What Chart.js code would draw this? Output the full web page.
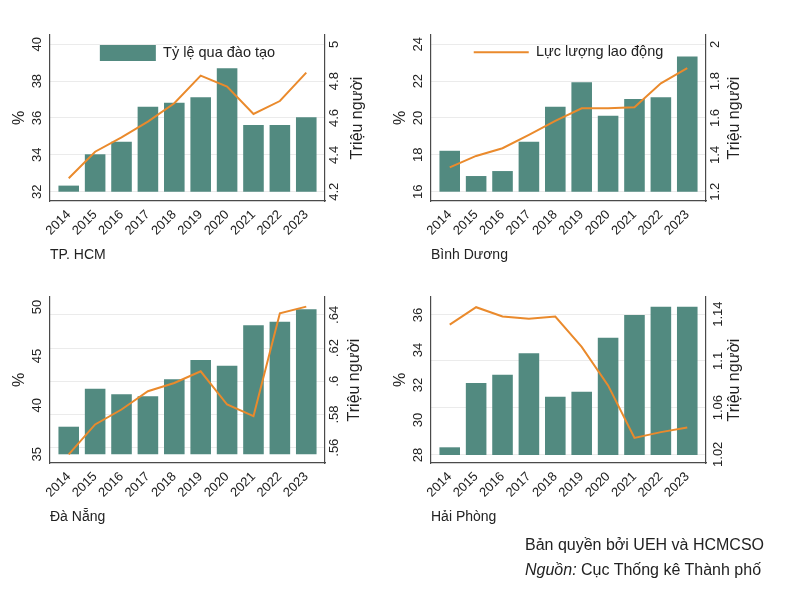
<!DOCTYPE html>
<html lang="vi">
<head>
<meta charset="utf-8">
<title>Tỷ lệ qua đào tạo và lực lượng lao động</title>
<script src="https://cdn.jsdelivr.net/npm/chart.js@4.4.1/dist/chart.umd.min.js"></script>
<style>
  html, body { margin:0; padding:0; background:#fff; }
  body { width:800px; height:599px; position:relative; overflow:hidden; font-family:"Liberation Sans", Arial, sans-serif; }
  canvas { position:absolute; }
  #p1 { left:0; top:0; }
  #p2 { left:381px; top:0; }
  #p3 { left:0; top:262px; }
  #p4 { left:381px; top:262px; }
  .note { position:absolute; left:525px; font-size:16px; line-height:18px; color:#222; white-space:nowrap; }
</style>
</head>
<body>
<canvas id="p1" width="385" height="271"></canvas>
<canvas id="p2" width="385" height="271"></canvas>
<canvas id="p3" width="385" height="271"></canvas>
<canvas id="p4" width="385" height="271"></canvas>
<div class="note" style="top:536px">Bản quyền bởi UEH và HCMCSO</div>
<div class="note" style="top:561px"><i>Nguồn:</i> Cục Thống kê Thành phố</div>
<script>
// ─── data ───────────────────────────────────────────────────────────────────
const years = [2014, 2015, 2016, 2017, 2018, 2019, 2020, 2021, 2022, 2023];

const hcmTrained = [32.33, 34.03, 34.71, 36.61, 36.83, 37.12, 38.70, 35.62, 35.62, 36.04];
const hcmLabour  = [4.273, 4.417, 4.495, 4.580, 4.680, 4.830, 4.770, 4.622, 4.692, 4.846];
const bdTrained  = [18.22, 16.85, 17.12, 18.71, 20.61, 21.94, 20.12, 21.03, 21.12, 23.33];
const bdLabour   = [1.332, 1.394, 1.436, 1.508, 1.584, 1.653, 1.653, 1.658, 1.788, 1.870];
const dnTrained  = [37.81, 41.68, 41.11, 40.91, 42.64, 44.60, 44.02, 48.14, 48.50, 49.77];
const dnLabour   = [0.556, 0.574, 0.583, 0.594, 0.599, 0.606, 0.586, 0.579, 0.641, 0.645];
const hpTrained  = [28.44, 32.11, 32.59, 33.81, 31.33, 31.62, 34.70, 36.00, 36.47, 36.47];
const hpLabour   = [1.131, 1.146, 1.138, 1.136, 1.138, 1.112, 1.079, 1.034, 1.039, 1.043];

const hcmLeftTicks  = [32, 34, 36, 38, 40];
const hcmRightTicks = [4.2, 4.4, 4.6, 4.8, 5];
const bdLeftTicks   = [16, 18, 20, 22, 24];
const bdRightTicks  = [1.2, 1.4, 1.6, 1.8, 2];
const dnLeftTicks   = [35, 40, 45, 50];
const dnRightTicks  = [0.56, 0.58, 0.6, 0.62, 0.64];
const hpLeftTicks   = [28, 30, 32, 34, 36];
const hpRightTicks  = [1.02, 1.06, 1.1, 1.14];

// ─── style ──────────────────────────────────────────────────────────────────
const FONT = '"Liberation Sans", Arial, sans-serif';
const BAR_COLOR  = '#528a80';
const LINE_COLOR = '#ea8a2c';
const AXIS_COLOR = '#4a4a4a';
const GRID_COLOR = '#ebebeb';
const TEXT_COLOR = '#222';

function fixTicks(values) { return scale => { scale.ticks = values.map(v => ({ value: v })); }; }
function fixWidth(w) { return scale => { scale.width = w; }; }
function stataNum(v) { return String(+v.toFixed(2)).replace(/^0\./, '.'); }

// right-hand axis title reads bottom to top, like the left one
const rightTitle = {
  id: 'rightTitle',
  afterDraw(chart, args, opts) {
    const { ctx, chartArea } = chart;
    ctx.save();
    ctx.translate(chartArea.right + opts.offset, (chartArea.top + chartArea.bottom) / 2);
    ctx.rotate(-Math.PI / 2);
    ctx.font = '16px ' + FONT;
    ctx.fillStyle = TEXT_COLOR;
    ctx.textAlign = 'center';
    ctx.textBaseline = 'middle';
    ctx.fillText(opts.text, 0, 0);
    ctx.restore();
  }
};

// the chartArea legend is laid out as a column; pin it to the top of the plot, centred
const centreLegend = {
  id: 'centreLegend',
  beforeDraw(chart) {
    const lg = chart.legend;
    if (!lg || !lg.options.display || !lg.columnSizes || !lg.columnSizes.length) return;
    const pad = lg.options.labels.padding;
    const { chartArea } = chart;
    lg.left = chartArea.left + (chartArea.width - lg.columnSizes[0].width) / 2 - pad;
    lg.top = chartArea.top;
    lg.bottom = chartArea.bottom;
  }
};

function legendFor(kind) {
  if (kind === 'bar') return {
    display: true, position: 'chartArea', align: 'start',
    labels: { filter: it => it.datasetIndex === 0, boxWidth: 56, boxHeight: 16, padding: 10,
              color: TEXT_COLOR, font: { size: 14.5, family: FONT } }
  };
  if (kind === 'line') return {
    display: true, position: 'chartArea', align: 'start',
    labels: { filter: it => it.datasetIndex === 1, usePointStyle: true, pointStyle: 'line',
              pointStyleWidth: 55, padding: 10, color: TEXT_COLOR, font: { size: 14.5, family: FONT } }
  };
  return { display: false };
}

function makePanel(id, p) {
  const tickFont = { size: 13, family: FONT };
  return new Chart(document.getElementById(id), {
    type: 'bar',
    data: {
      datasets: [
        { type: 'bar', label: 'Tỷ lệ qua đào tạo', data: years.map((y, i) => ({ x: y, y: p.trained[i] })),
          backgroundColor: BAR_COLOR, borderWidth: 0, base: p.base, yAxisID: 'yL', order: 1,
          barPercentage: 0.78, categoryPercentage: 1 },
        { type: 'line', label: 'Lực lượng lao động', data: years.map((y, i) => ({ x: y, y: p.labour[i] })),
          borderColor: LINE_COLOR, backgroundColor: LINE_COLOR, borderWidth: 2, pointRadius: 0,
          tension: 0, yAxisID: 'yR', order: 0 }
      ]
    },
    options: {
      responsive: false, animation: false,
      layout: { padding: { left: 0, right: 0, top: 35, bottom: 7 } },
      plugins: {
        tooltip: { enabled: false },
        legend: legendFor(p.legend),
        rightTitle: { text: 'Triệu người', offset: p.titleOffset }
      },
      scales: {
        x: {
          type: 'linear', position: 'bottom', min: 2013.29, max: 2023.71, offset: false,
          grid: { display: false, drawTicks: false }, border: { display: true, color: AXIS_COLOR, width: 1.2 },
          afterBuildTicks: fixTicks(years), afterFit: s => { s.height = 63; },
          ticks: { autoSkip: false, minRotation: 45, maxRotation: 45, padding: 6, color: TEXT_COLOR,
                   font: tickFont, callback: v => String(v) },
          title: { display: true, text: p.place, align: 'start', color: TEXT_COLOR, padding: 0,
                   font: { size: 14, family: FONT } }
        },
        yL: {
          type: 'linear', position: 'left', min: p.left[0], max: p.left[1],
          grid: { display: false, drawTicks: false }, border: { display: true, color: AXIS_COLOR, width: 1.2 },
          afterBuildTicks: fixTicks(p.leftTicks), afterFit: fixWidth(50),
          ticks: { minRotation: 90, maxRotation: 90, crossAlign: 'center', padding: 5,
                   color: TEXT_COLOR, font: tickFont, callback: v => stataNum(v) },
          title: { display: true, text: '%', color: TEXT_COLOR, padding: { top: 10.4, bottom: 0 },
                   font: { size: 16, family: FONT } }
        },
        yR: {
          type: 'linear', position: 'right', min: p.right[0], max: p.right[1],
          grid: { display: true, color: GRID_COLOR, drawTicks: false },
          border: { display: true, color: AXIS_COLOR, width: 1.2 },
          afterBuildTicks: fixTicks(p.rightTicks), afterFit: fixWidth(60),
          ticks: { minRotation: 90, maxRotation: 90, crossAlign: 'center', padding: 0,
                   color: TEXT_COLOR, font: tickFont, callback: v => stataNum(v) }
        }
      }
    },
    plugins: [rightTitle, centreLegend]
  });
}

makePanel('p1', { place: 'TP. HCM', trained: hcmTrained, labour: hcmLabour,
  leftTicks: hcmLeftTicks, rightTicks: hcmRightTicks, left: [31.495, 40.503], right: [4.1495, 5.0504],
  base: 32, legend: 'bar', titleOffset: 33 });
makePanel('p2', { place: 'Bình Dương', trained: bdTrained, labour: bdLabour,
  leftTicks: bdLeftTicks, rightTicks: bdRightTicks, left: [15.495, 24.503], right: [1.1495, 2.0504],
  base: 16, legend: 'line', titleOffset: 29 });
makePanel('p3', { place: 'Đà Nẵng', trained: dnTrained, labour: dnLabour,
  leftTicks: dnLeftTicks, rightTicks: dnRightTicks, left: [34.114, 51.02], right: [0.55078, 0.65078],
  base: 35, legend: null, titleOffset: 30 });
makePanel('p4', { place: 'Hải Phòng', trained: hpTrained, labour: hpLabour,
  leftTicks: hpLeftTicks, rightTicks: hpRightTicks, left: [27.543, 37.029], right: [1.01255, 1.15473],
  base: 28, legend: null, titleOffset: 29 });
</script>
</body>
</html>
